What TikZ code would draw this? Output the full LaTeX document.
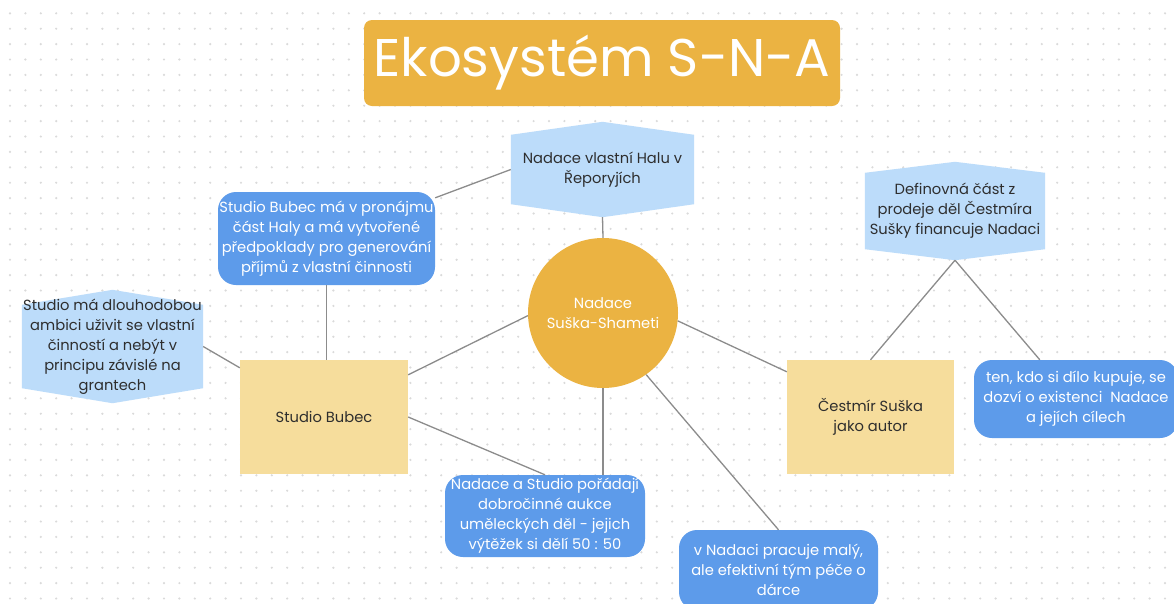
\documentclass[tikz,border=0pt]{standalone}
\usepackage{fontspec}
\setmainfont{Poppins}
\usetikzlibrary{calc}

\pgfdeclarelayer{background}
\pgfsetlayers{background,main}

\definecolor{gold}{HTML}{EBB342}
\definecolor{sand}{HTML}{F6DD9C}
\definecolor{skyblue}{HTML}{BCDCFA}
\definecolor{midblue}{HTML}{5D9BEA}
\definecolor{linegray}{HTML}{8C8C8C}
\definecolor{dotgray}{HTML}{DADADA}
\definecolor{inkgray}{HTML}{2E2E2E}

% pointed top and bottom behind a text node
\newcommand{\hexfill}[2]{%
  \begin{pgfonlayer}{background}
  \fill [skyblue] ($(#1.north west)+(0,#2)$) -- (#1.north) -- ($(#1.north east)+(0,#2)$)
    -- ($(#1.south east)+(0,-#2)$) -- (#1.south) -- ($(#1.south west)+(0,-#2)$) -- cycle;
  \end{pgfonlayer}}

\begin{document}
\begin{tikzpicture}[x=1pt,y=-1pt,
  txt/.style={font=\fontsize{14.7}{20}\selectfont,align=center,inner sep=0pt},
  hexbox/.style={txt,text=inkgray},
  roundbox/.style={txt,text=white,fill=midblue,rounded corners=18pt},
  squarebox/.style={txt,text=inkgray,fill=sand},
  link/.style={draw=linegray,line width=1.3pt}]

\useasboundingbox (0,0) rectangle (1174,603);

\begin{pgfonlayer}{background}
\fill [white] (0,0) rectangle (1174,603);
\foreach \i in {0,...,76}
  \foreach \j in {0,...,39}
    \fill [dotgray] (10+15.4*\i,13.3+15.4*\j) circle (1.2pt);
\end{pgfonlayer}

\node [fill=gold,rounded corners=8pt,minimum width=476pt,minimum height=86pt,text=white,font=\fontsize{53}{60}\selectfont] (title) at (602,63) {Ekosystém S-N-A};

\node [circle,fill=gold,minimum size=150pt,txt,text=white] (nadace) at (603,313) {Nadace\\Suška-Shameti};

\node [hexbox,minimum width=183pt,minimum height=95pt] (halu) at (602.5,169.5) {Nadace vlastní Halu v\\Řeporyjích};
\hexfill{halu}{13}

\node [hexbox,minimum width=181pt,minimum height=113pt] (granty) at (112.5,346.5) {Studio má dlouhodobou\\ambici uživit se vlastní\\činností a nebýt v\\principu závislé na\\grantech};
\hexfill{granty}{15}

\node [hexbox,minimum width=180pt,minimum height=98pt] (prodej) at (955,211) {Definovná část z\\prodeje děl Čestmíra\\Sušky financuje Nadaci};
\hexfill{prodej}{11}

\node [roundbox,minimum width=217pt,minimum height=93pt] (najem) at (326.5,238.5) {Studio Bubec má v pronájmu\\část Haly a má vytvořené\\předpoklady pro generování\\příjmů z vlastní činnosti};

\node [squarebox,minimum width=168pt,minimum height=114pt] (studio) at (324,417) {Studio Bubec};
\node [squarebox,minimum width=167pt,minimum height=114pt] (autor) at (870.5,417) {Čestmír Suška\\jako autor};

\node [roundbox,minimum width=200pt,minimum height=82pt] (aukce) at (545,516) {Nadace a Studio pořádají\\dobročinné aukce\\uměleckých děl - jejich\\výtěžek si dělí 50 : 50};
\node [roundbox,minimum width=199pt,minimum height=80pt] (tym) at (778.5,570) {v Nadaci pracuje malý,\\ale efektivní tým péče o\\dárce};
\node [roundbox,minimum width=204pt,minimum height=78pt] (kupec) at (1076,399) {ten, kdo si dílo kupuje, se\\dozví o existenci\ \ Nadace\\a jejích cílech};

\draw [link] ($(najem.north east)+(0,6)$) -- (halu.west);
\draw [link] (halu.south) -- (nadace.north);
\draw [link] (najem.south) -- (najem.south |- studio.north);
\draw [link] (granty.east) -- ($(studio.north west)+(0,8)$);
\draw [link] (nadace.182) -- ($(studio.north east)+(0,15)$);
\draw [link] (studio.east) -- (aukce.north);
\draw [link] (nadace.south) -- (nadace.south |- aukce.north);
\draw [link] (nadace.-55) -- (tym.north);
\draw [link] (nadace.-6) -- ($(autor.north west)+(0,12)$);
\draw [link] (autor.north) -- (prodej.south);
\draw [link] (prodej.south) -- ($(kupec.north west)+(66,0)$);

\end{tikzpicture}
\end{document}
